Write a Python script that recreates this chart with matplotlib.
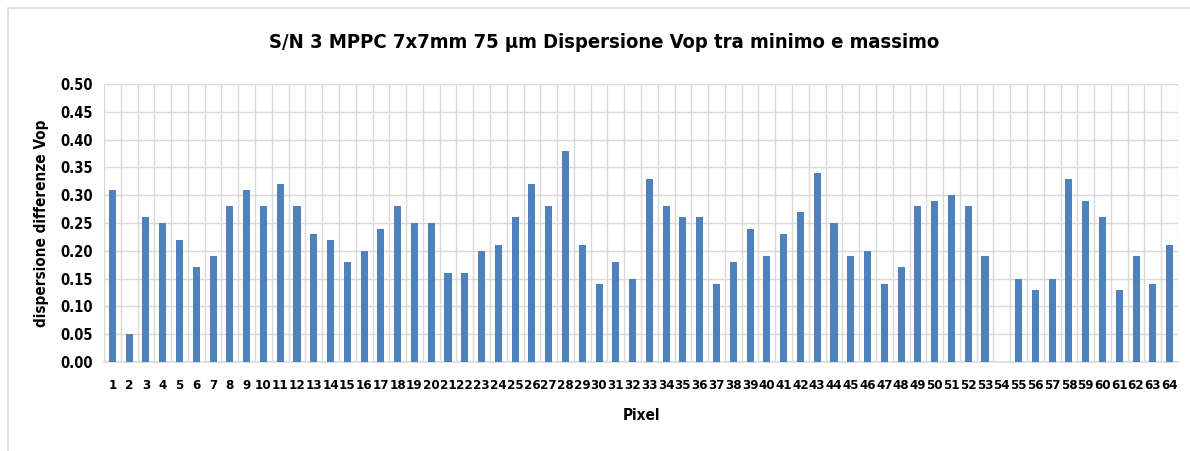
import matplotlib.pyplot as plt
import numpy as np
from matplotlib.patches import Rectangle

# ---- Data ----
pixels = np.arange(1, 65)
dispersione = [0.31, 0.05, 0.26, 0.25, 0.22, 0.17, 0.19, 0.28, 0.31, 0.28,
               0.32, 0.28, 0.23, 0.22, 0.18, 0.20, 0.24, 0.28, 0.25, 0.25,
               0.16, 0.16, 0.20, 0.21, 0.26, 0.32, 0.28, 0.38, 0.21, 0.14,
               0.18, 0.15, 0.33, 0.28, 0.26, 0.26, 0.14, 0.18, 0.24, 0.19,
               0.23, 0.27, 0.34, 0.25, 0.19, 0.20, 0.14, 0.17, 0.28, 0.29,
               0.30, 0.28, 0.19, 0.00, 0.15, 0.13, 0.15, 0.33, 0.29, 0.26,
               0.13, 0.19, 0.14, 0.21]
y_ticks = np.arange(0, 0.51, 0.05)

plt.rcParams['font.family'] = ['DejaVu Sans']
plt.rcParams['font.stretch'] = 'condensed'

fig = plt.figure(figsize=(11.9, 4.51), dpi=100)
fig.patches.append(Rectangle((8 / 1190, -0.01), 1.0, 1 - 8 / 451 + 0.01,
                             transform=fig.transFigure, fill=False,
                             edgecolor='#d9d9d9', linewidth=1.2))
ax = fig.add_axes([104 / 1190, 1 - 362 / 451, (1178 - 104) / 1190, (362 - 84) / 451])

ax.bar(pixels, dispersione, width=0.42, color='#4F81BD', zorder=3)

ax.set_xlim(0.5, 64.5)
ax.set_ylim(0, 0.5)
ax.set_yticks(y_ticks)
ax.set_yticklabels([f"{v:.2f}" for v in y_ticks], fontsize=10.5, fontweight='bold')
ax.set_xticks(pixels)
ax.set_xticklabels([str(p) for p in pixels], fontsize=9.5, fontweight='bold')
ax.set_xticks(np.arange(0.5, 65, 1), minor=True)

ax.grid(True, which='major', axis='y', color='#d9d9d9', linewidth=1)
ax.grid(True, which='minor', axis='x', color='#d9d9d9', linewidth=1)
ax.tick_params(axis='both', which='both', length=0)
ax.tick_params(axis='x', pad=12)
ax.tick_params(axis='y', pad=8)
for side in ['top', 'right', 'left']:
    ax.spines[side].set_visible(False)
ax.spines['bottom'].set_color('#d9d9d9')
ax.spines['bottom'].set_linewidth(1.2)

fig.text(604 / 1190, 1 - 42 / 451,
         "S/N 3 MPPC 7x7mm 75 µm Dispersione Vop tra minimo e massimo",
         fontsize=14.5, fontweight='bold', ha='center', va='center')
ax.set_xlabel("Pixel", fontsize=11, fontweight='bold', labelpad=12)
ax.set_ylabel("dispersione differenze Vop", fontsize=11, fontweight='bold', labelpad=8)

fig.savefig("out.png", dpi=100)
